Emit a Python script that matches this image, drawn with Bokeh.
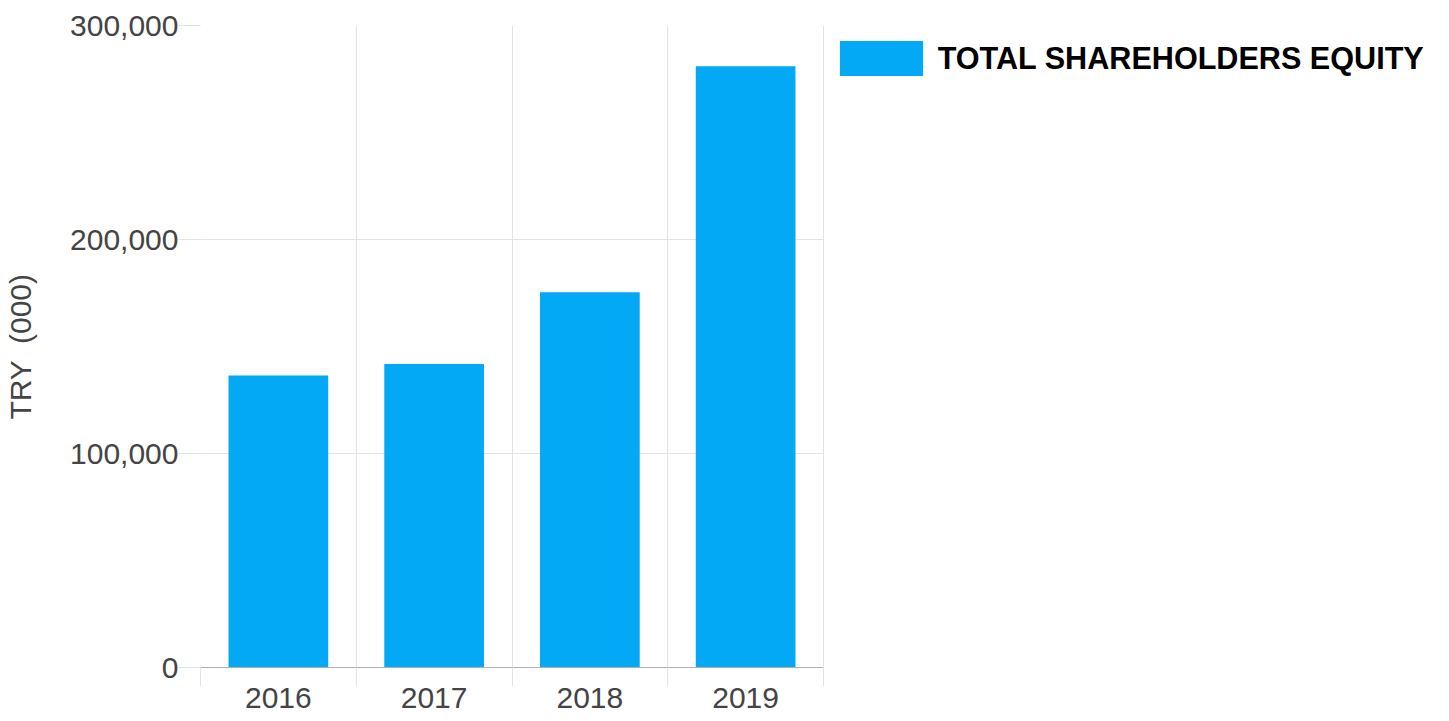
from bokeh.plotting import figure
from bokeh.models import (ColumnDataSource, Range1d, FixedTicker, NumeralTickFormatter,
                          Legend, LegendItem)
from bokeh.embed import file_html
from bokeh.resources import INLINE

years = ["2016", "2017", "2018", "2019"]
equity = [136500, 141800, 175300, 281000]
series_name = "TOTAL SHAREHOLDERS EQUITY"
y_ticks = [0, 100000, 200000, 300000]
y_label = "TRY \u00a0(000)"

FONT = "Liberation Sans"
BAR = "#03A9F4"
GRID = "#e3e3e3"
TXT = "#444444"

W, H = 1433, 716
LEFT, TOP, BOTTOM = 200, 25, 49
CHART_W = 623                      # pixel width of the bar area
FRAME_W = W - LEFT
FRAME_H = H - TOP - BOTTOM
n = len(years)

centers = [i + 0.5 for i in range(n)]
bounds = list(range(n + 1))
src = ColumnDataSource(dict(x=centers, y=equity, year=years))

p = figure(width=W, height=H, output_backend="svg", toolbar_location=None,
           x_range=Range1d(0, n * FRAME_W / CHART_W), y_range=Range1d(0, 300000),
           min_border_left=LEFT, min_border_right=0, min_border_top=TOP,
           min_border_bottom=BOTTOM)
p.outline_line_color = None
p.background_fill_color = "white"
p.border_fill_color = "white"

r = p.vbar(x="x", top="y", width=0.64, source=src, fill_color=BAR, line_color=None)

# x axis
xa = p.xaxis[0]
xa.bounds = (0, n)
xa.ticker = FixedTicker(ticks=centers, minor_ticks=bounds)
xa.major_label_overrides = {c: y for c, y in zip(centers, years)}
xa.major_tick_line_color = None
xa.major_tick_out = 0
xa.major_tick_in = 0
xa.minor_tick_line_color = GRID
xa.minor_tick_out = 19
xa.minor_tick_in = 0
xa.axis_line_color = "#b0b0b0"
xa.major_label_standoff = 1
xa.major_label_text_font = FONT
xa.major_label_text_font_size = "30px"
xa.major_label_text_color = TXT

# y axis
ya = p.yaxis[0]
ya.ticker = FixedTicker(ticks=y_ticks)
ya.formatter = NumeralTickFormatter(format="0,0")
ya.axis_line_color = None
ya.major_tick_line_color = GRID
ya.major_tick_out = 22
ya.major_tick_in = 0
ya.minor_tick_line_color = None
ya.major_label_standoff = 0
ya.major_label_text_font = FONT
ya.major_label_text_font_size = "30px"
ya.major_label_text_color = TXT
ya.axis_label = y_label
ya.axis_label_text_font = FONT
ya.axis_label_text_font_size = "30px"
ya.axis_label_text_font_style = "normal"
ya.axis_label_text_color = TXT
ya.axis_label_standoff = 30

p.xgrid.ticker = FixedTicker(ticks=bounds)
p.xgrid.grid_line_color = GRID
p.ygrid.ticker = FixedTicker(ticks=y_ticks)
p.ygrid.grid_line_color = GRID
p.ygrid.cross_bounds = (0, n)

# legend (glyph drawn with 10% inset on each side)
gw, gh = 83 / 0.8, 35 / 0.8
leg_x = 839 - 0.1 * gw - LEFT
leg_top = 41 - 0.1 * gh - TOP
legend = Legend(items=[LegendItem(label=series_name, renderers=[r])],
                location=(leg_x, FRAME_H - leg_top - gh), padding=0, margin=0, spacing=0,
                border_line_color=None, background_fill_alpha=0,
                glyph_width=int(round(gw)), glyph_height=int(round(gh)), label_standoff=5,
                label_text_font=FONT, label_text_font_size="30.6px",
                label_text_font_style="bold", label_text_color="black",
                label_height=int(round(gh)))
p.add_layout(legend, "center")

open("out.html", "w").write(file_html(p, INLINE))
